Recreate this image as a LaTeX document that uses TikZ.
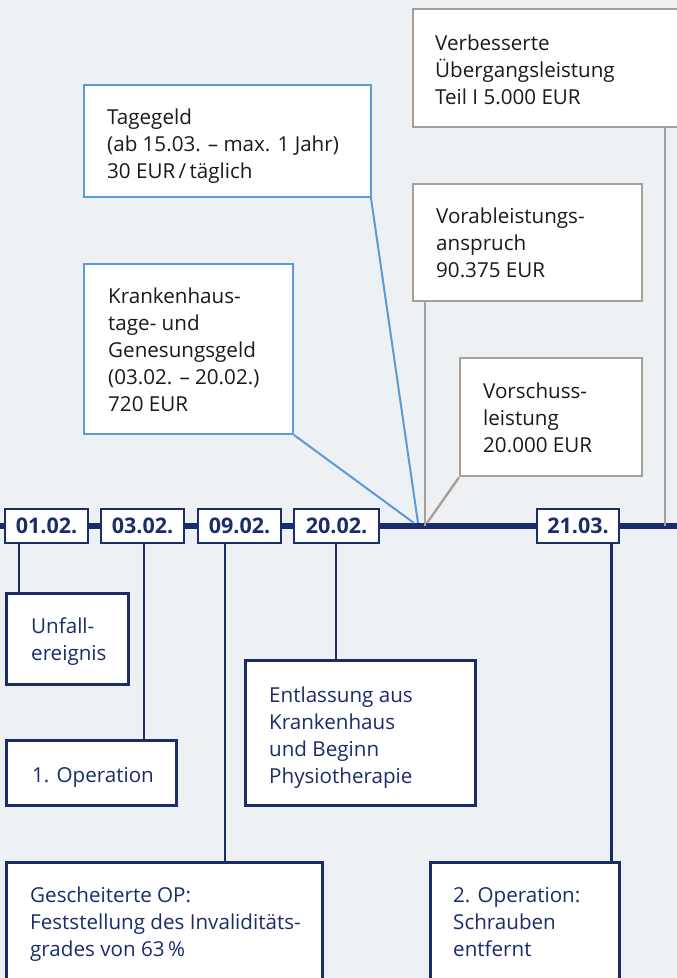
\documentclass[tikz,border=0pt]{standalone}
\usepackage{fontspec}
\setmainfont{Open Sans}
\definecolor{bgc}{HTML}{EEF1F3}
\definecolor{navy}{HTML}{1B2C6A}
\definecolor{lblue}{HTML}{5A9AD6}
\definecolor{warmgray}{HTML}{A7A098}
\definecolor{ink}{HTML}{1A1A1A}
\begin{document}
\begin{tikzpicture}[x=1pt,y=-1pt,
  basebox/.style={fill=white, inner sep=0pt, anchor=north west},
  navybox/.style={basebox, draw=navy, line width=2.6pt},
  bluebox/.style={basebox, draw=lblue, line width=2pt},
  graybox/.style={basebox, draw=warmgray, line width=2.4pt},
  datebox/.style={draw=navy, line width=2.6pt, fill=white, minimum height=34pt, inner sep=0pt,
    font=\bfseries\fontsize{21.5}{24}\selectfont, text=navy},
  txt/.style={anchor=north west, inner sep=0pt, align=left, font=\fontsize{20.6}{27}\selectfont},
  darktxt/.style={txt, text=ink},
  navytxt/.style={txt, text=navy},
  navyline/.style={draw=navy, line width=2.4pt},
  blueline/.style={draw=lblue, line width=2pt},
  grayline/.style={draw=warmgray, line width=2.4pt},
  timeline/.style={draw=navy, line width=5.5pt}]
\useasboundingbox (0,0) rectangle (677,978);
\fill[bgc] (0,0) rectangle (677,978);

% timeline
\coordinate (tlL) at (0,526);
\coordinate (tlR) at (677,526);
\draw[timeline] (tlL) -- (tlR);

% upper boxes
\node[graybox, minimum width=290pt, minimum height=118pt] (verb) at (412,8) {};
\node[darktxt] (verbT) at (435,31.1) {\strut Verbesserte\\Übergangsleistung\\Teil I 5.000 EUR};

\node[bluebox, minimum width=287pt, minimum height=112pt] (tage) at (83,84) {};
\node[darktxt] (tageT) at (107,105.1) {\strut Tagegeld\\(ab 15.03. – max. 1 Jahr)\\30 EUR\,/\,täglich};

\node[graybox, minimum width=229pt, minimum height=117pt] (vorab) at (412,183) {};
\node[darktxt] (vorabT) at (436,204.1) {\strut Vorableistungs-\\anspruch\\90.375 EUR};

\node[bluebox, minimum width=209pt, minimum height=170pt] (krank) at (83,263) {};
\node[darktxt] (krankT) at (108,284.1) {\strut Krankenhaus-\\tage- und\\Genesungsgeld\\(03.02. – 20.02.)\\720 EUR};

\node[graybox, minimum width=182pt, minimum height=118pt] (vorsch) at (459,357) {};
\node[darktxt] (vorschT) at (483,379.1) {\strut Vorschuss-\\leistung\\20.000 EUR};

% upper connectors
\coordinate (hubK) at (414,523);
\coordinate (hubT) at (418,523);
\coordinate (hubG) at (427,523);
\coordinate (cVerb) at ([xshift=253pt]verb.south west);
\coordinate (cVorab) at ([xshift=13pt]vorab.south west);
\coordinate (cTage) at ([xshift=-1pt]tage.south east);
\draw[grayline] (cVerb) -- (cVerb |- tlL);
\draw[grayline] (cVorab) -- (cVorab |- tlL);
\draw[grayline] (vorsch.south west) -- (hubG);
\draw[blueline] (cTage) -- (hubT);
\draw[blueline] (krank.south east) -- (hubK);

% lower boxes
\node[navybox, minimum width=122pt, minimum height=91pt] (unfall) at (5,592) {};
\node[navytxt] (unfallT) at (31,614.1) {\strut Unfall-\\ereignis};

\node[navybox, minimum width=170pt, minimum height=65pt] (op1) at (5,739) {};
\node[navytxt] (op1T) at (32,763.1) {\strut 1. Operation};

\node[navybox, minimum width=230pt, minimum height=145pt] (entl) at (244,659) {};
\node[navytxt] (entlT) at (269,683.1) {\strut Entlassung aus\\Krankenhaus\\und Beginn\\Physiotherapie};

\node[navybox, minimum width=316pt, minimum height=140pt] (gesch) at (5,861) {};
\node[navytxt] (geschT) at (30,883.1) {\strut Gescheiterte OP:\\Feststellung des Invaliditäts-\\grades von 63\,\%};

\node[navybox, minimum width=189pt, minimum height=140pt] (op2) at (429,861) {};
\node[navytxt] (op2T) at (453,883.1) {\strut 2. Operation:\\Schrauben\\entfernt};

% date boxes
\node[datebox, minimum width=83pt] (d1) at (46.5,526) {01.02.};
\node[datebox, minimum width=83pt] (d2) at (142.5,526) {03.02.};
\node[datebox, minimum width=83pt] (d3) at (239.5,526) {09.02.};
\node[datebox, minimum width=85pt] (d4) at (336.5,526) {20.02.};
\node[datebox, minimum width=82pt] (d5) at (578,526) {21.03.};

% lower connectors
\coordinate (cU) at ([xshift=14pt]unfall.north west);
\coordinate (cO1) at ([xshift=139pt]op1.north west);
\coordinate (cG) at ([xshift=220pt]gesch.north west);
\coordinate (cE) at ([xshift=92pt]entl.north west);
\coordinate (cO2) at ([xshift=-9pt]op2.north east);
\draw[navyline] (cU) -- (cU |- d1.south);
\draw[navyline] (cO1) -- (cO1 |- d2.south);
\draw[navyline] (cG) -- (cG |- d3.south);
\draw[navyline] (cE) -- (cE |- d4.south);
\draw[navyline] (cO2) -- (cO2 |- d5.south);
\end{tikzpicture}
\end{document}
